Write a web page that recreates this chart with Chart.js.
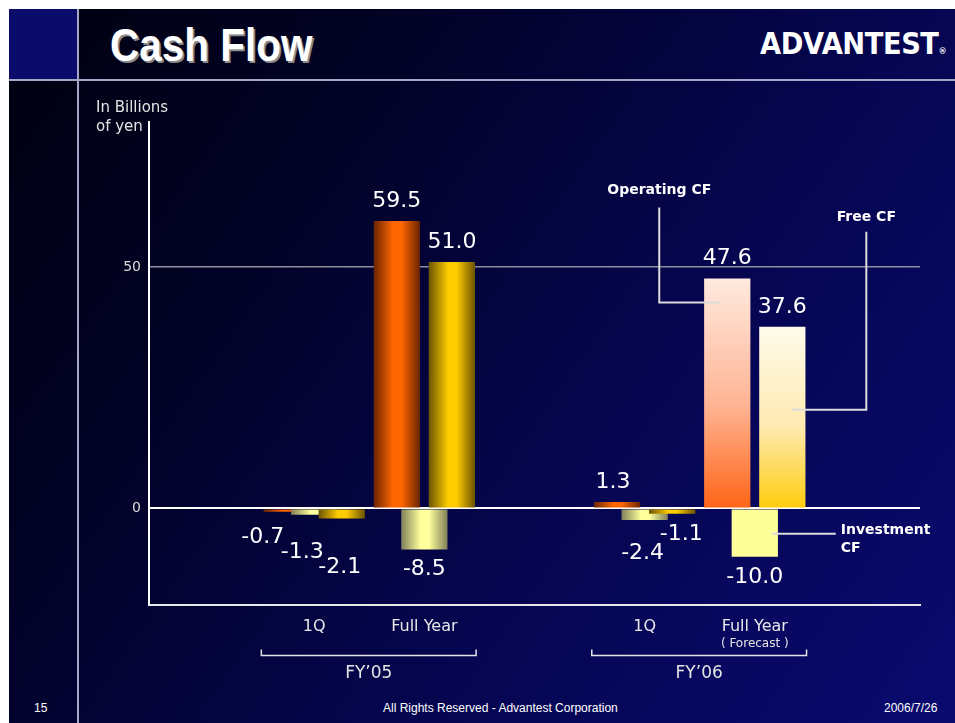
<!DOCTYPE html>
<html>
<head>
<meta charset="utf-8">
<title>Cash Flow</title>
<script src="https://cdn.jsdelivr.net/npm/chart.js@4.4.1/dist/chart.umd.min.js"></script>
<style>
body { margin:0; background:#fff; width:955px; height:723px; overflow:hidden; position:relative; }
#slide { position:absolute; left:9px; top:9px; width:946px; height:714px;
  background: linear-gradient(125deg, #010110 0%, #020226 28%, #05054e 60%, #0a0a70 100%); }
#corner { position:absolute; left:9px; top:9px; width:69px; height:70px; background:#0b0b6b; }
#vline { position:absolute; left:77px; top:9px; width:2px; height:714px; background:#a5a5c8; }
#hline { position:absolute; left:9px; top:79px; width:946px; height:2px; background:#a5a5c8; }
#title { position:absolute; left:110px; top:22px; font:bold 46px "Liberation Sans", Arial, sans-serif; line-height:46px;
  color:#fff; text-shadow:2px 2px 0 #8a8a8a; transform:scaleX(0.88); transform-origin:0 0; white-space:nowrap; }
#logo { position:absolute; left:760px; top:29px; font:bold 30px "DejaVu Sans", sans-serif; line-height:30px; color:#fff;
  transform:scaleX(0.91); transform-origin:0 0; white-space:nowrap; letter-spacing:-0.5px; }
#logo span { font-size:9px; letter-spacing:0; }
.foot { position:absolute; top:702px; font:12px "Liberation Sans", Arial, sans-serif; line-height:12px; color:#fff; white-space:nowrap; }
#wrap { position:absolute; left:0; top:0; width:955px; height:723px; }
</style>
</head>
<body>
<div id="slide"></div>
<div id="corner"></div>
<div id="vline"></div>
<div id="hline"></div>
<div id="title">Cash Flow</div>
<div id="logo">ADVANTEST<span>®</span></div>
<div class="foot" style="left:34px">15</div>
<div class="foot" style="left:383px">All Rights Reserved - Advantest Corporation</div>
<div class="foot" style="left:884px">2006/7/26</div>
<div id="wrap"><canvas id="chart"></canvas></div>
<script>
const periods = ['1Q', 'Full Year', '1Q', 'Full Year']
const periodNotes = ['', '', '', '( Forecast )']
const periodYear = [0, 0, 1, 1]
const fiscalYears = ['FY’05', 'FY’06']
const operatingCF = [-0.7, 59.5, 1.3, 47.6]
const investmentCF = [-1.3, -8.5, -2.4, -10.0]
const freeCF = [-2.1, 51.0, -1.1, 37.6]
const yTicks = [0, 50]
const yTitle = ['In Billions', 'of yen']

// an empty slot before each fiscal year and one at the end
let slotLabels = []
let slotOf = []
periods.forEach((p, i) => {
    if (i === 0 || periodYear[i] !== periodYear[i - 1]) slotLabels.push('')
    slotOf.push(slotLabels.length)
    slotLabels.push(p)
})
slotLabels.push('')

const toSlots = arr => {
    let out = slotLabels.map(() => null)
    arr.forEach((v, i) => { out[slotOf[i]] = v })
    return out
}

const LANE = 0.25   // step between the three bars of a period, in slot widths
const BAR = 0.42    // bar width, in slot widths

const palette = [
    { edge: '#6a2400', mid: '#ff6600', top: '#ffe9de', half: '#ffb494', bottom: '#ff6416' },
    { edge: '#80805a', mid: '#ffff9c', top: '#ffff99', half: '#ffff99', bottom: '#ffff99' },
    { edge: '#6a5400', mid: '#ffcc00', top: '#fffbec', half: '#feeab0', bottom: '#ffcc0c' }
]

function slotWidth(chart) {
    return chart.scales.x.width / slotLabels.length
}

function barFill(ctx) {
    const c = palette[ctx.datasetIndex]
    const p = slotOf.indexOf(ctx.dataIndex)
    if (ctx.type !== 'data' || !ctx.chart.chartArea || p < 0) return c.mid
    const xs = ctx.chart.scales.x, ys = ctx.chart.scales.y
    const cw = slotWidth(ctx.chart)
    const cx = xs.getPixelForValue(ctx.dataIndex) + (ctx.datasetIndex - 1) * LANE * cw
    const y0 = ys.getPixelForValue(0), y1 = ys.getPixelForValue(ctx.raw)
    const g = ctx.chart.ctx
    let grad
    if (periodNotes[p]) {
        grad = g.createLinearGradient(0, Math.min(y0, y1), 0, Math.max(y0, y1))
        grad.addColorStop(0, c.top)
        grad.addColorStop(0.55, c.half)
        grad.addColorStop(1, c.bottom)
    } else {
        grad = g.createLinearGradient(cx - BAR * cw / 2, 0, cx + BAR * cw / 2, 0)
        grad.addColorStop(0, c.edge)
        grad.addColorStop(0.42, c.mid)
        grad.addColorStop(0.6, c.mid)
        grad.addColorStop(1, c.edge)
    }
    return grad
}

// label nudges [dx, dy] keyed "dataset-period"
const labelNudge = { '0-0': [-24, 5], '1-0': [-12, 17], '2-0': [-2, 28], '0-2': [-4, 0], '1-2': [-2, 13], '2-2': [9, 0] }

// callouts, offsets from the bar end
const callouts = [
    { dataset: 0, period: 3, text: ['Operating CF'], align: 'center', at: [-68, -84], path: [[-68, -71], [-68, 24], [-8, 24]] },
    { dataset: 2, period: 3, text: ['Free CF'], align: 'center', at: [84, -106], path: [[84, -95], [84, 83], [10, 83]] },
    { dataset: 1, period: 3, text: ['Investment', 'CF'], align: 'left', at: [86, -23], path: [[17, -23], [81, -23]] }
]

const stagger = {
    id: 'stagger',
    afterDatasetsUpdate(chart) {
        const cw = slotWidth(chart)
        chart.data.datasets.forEach((ds, d) => {
            chart.getDatasetMeta(d).data.forEach(el => { el.x += (d - 1) * LANE * cw })
        })
    }
}

const extras = {
    id: 'extras',
    afterDatasetsDraw(chart) {
        const g = chart.ctx
        const area = chart.chartArea
        const xs = chart.scales.x
        const cw = slotWidth(chart)
        g.save()
        g.fillStyle = '#ffffff'
        g.textBaseline = 'alphabetic'

        // values
        g.font = '22px "DejaVu Sans"'
        g.textAlign = 'center'
        chart.data.datasets.forEach((ds, d) => {
            const meta = chart.getDatasetMeta(d)
            slotOf.forEach((s, p) => {
                const v = ds.data[s]
                const el = meta.data[s]
                const n = labelNudge[d + '-' + p] || [0, 0]
                const y = v >= 0 ? el.y - 14 : el.y + 26
                g.fillText(v.toFixed(1), el.x + n[0], y + n[1])
            })
        })

        // y title
        g.font = '15px "DejaVu Sans"'
        g.fillStyle = '#e4e4e4'
        g.textAlign = 'left'
        g.fillText(yTitle[0], area.left - 53, area.top - 10)
        g.fillText(yTitle[1], area.left - 53, area.top + 9)

        // notes under period labels
        g.font = '12px "DejaVu Sans"'
        g.textAlign = 'center'
        periodNotes.forEach((t, p) => {
            if (t) g.fillText(t, xs.getPixelForValue(slotOf[p]), area.bottom + 42)
        })

        // fiscal year brackets
        g.strokeStyle = '#e4e4e4'
        g.lineWidth = 1.5
        g.font = '17px "DejaVu Sans"'
        fiscalYears.forEach((fy, k) => {
            const idx = periods.map((p, i) => i).filter(i => periodYear[i] === k)
            const x0 = xs.getPixelForValue(slotOf[idx[0]]) - 0.48 * cw
            const x1 = xs.getPixelForValue(slotOf[idx[idx.length - 1]]) + 0.47 * cw
            const yb = area.bottom + 50.5
            g.beginPath()
            g.moveTo(x0, yb - 6)
            g.lineTo(x0, yb)
            g.lineTo(x1, yb)
            g.lineTo(x1, yb - 6)
            g.stroke()
            g.fillText(fy, (x0 + x1) / 2, area.bottom + 73)
        })

        // callouts
        g.strokeStyle = '#dcdcdc'
        g.lineWidth = 2
        g.font = 'bold 14px "DejaVu Sans"'
        g.fillStyle = '#ffffff'
        callouts.forEach(c => {
            const el = chart.getDatasetMeta(c.dataset).data[slotOf[c.period]]
            g.beginPath()
            c.path.forEach((pt, i) => {
                if (i === 0) g.moveTo(el.x + pt[0], el.y + pt[1])
                else g.lineTo(el.x + pt[0], el.y + pt[1])
            })
            g.stroke()
            g.textAlign = c.align
            c.text.forEach((t, i) => g.fillText(t, el.x + c.at[0], el.y + c.at[1] + i * 18))
        })
        g.restore()
    }
}

const barStyle = { backgroundColor: barFill, borderWidth: 0 }

let myChart = new Chart(document.getElementById('chart'), {
    type: 'bar',
    data: {
        labels: slotLabels,
        datasets: [
            { label: 'Operating CF', data: toSlots(operatingCF), order: 2, ...barStyle },
            { label: 'Investment CF', data: toSlots(investmentCF), order: 1, ...barStyle },
            { label: 'Free CF', data: toSlots(freeCF), order: 0, ...barStyle }
        ]
    },
    options: {
        responsive: true,
        maintainAspectRatio: false,
        animation: false,
        events: [],
        layout: { padding: { left: 89, top: 122, right: 35, bottom: 68 } },
        datasets: {
            bar: { grouped: false, categoryPercentage: 1, barPercentage: BAR }
        },
        plugins: { legend: { display: false }, tooltip: { enabled: false }, colors: { enabled: false } },
        scales: {
            x: {
                offset: true,
                grid: { display: false },
                border: { color: '#e8e8e8', width: 2 },
                ticks: { color: '#e8e8e8', font: { family: 'DejaVu Sans', size: 16 }, padding: 4, autoSkip: false, maxRotation: 0 },
                afterFit: s => { s.height = 50 }
            },
            y: {
                min: -20,
                max: 80,
                afterBuildTicks: s => { s.ticks = yTicks.map(v => ({ value: v })) },
                grid: {
                    color: c => c.tick && c.tick.value === 0 ? '#ffffff' : '#8e8e9e',
                    lineWidth: c => c.tick && c.tick.value === 0 ? 2 : 1.5,
                    drawTicks: false
                },
                border: { color: '#ffffff', width: 2 },
                ticks: { color: '#dcdcdc', font: { family: 'DejaVu Sans', size: 14 }, padding: 8 },
                afterFit: s => { s.width = 60 }
            }
        }
    },
    plugins: [stagger, extras]
})
</script>
</body>
</html>
